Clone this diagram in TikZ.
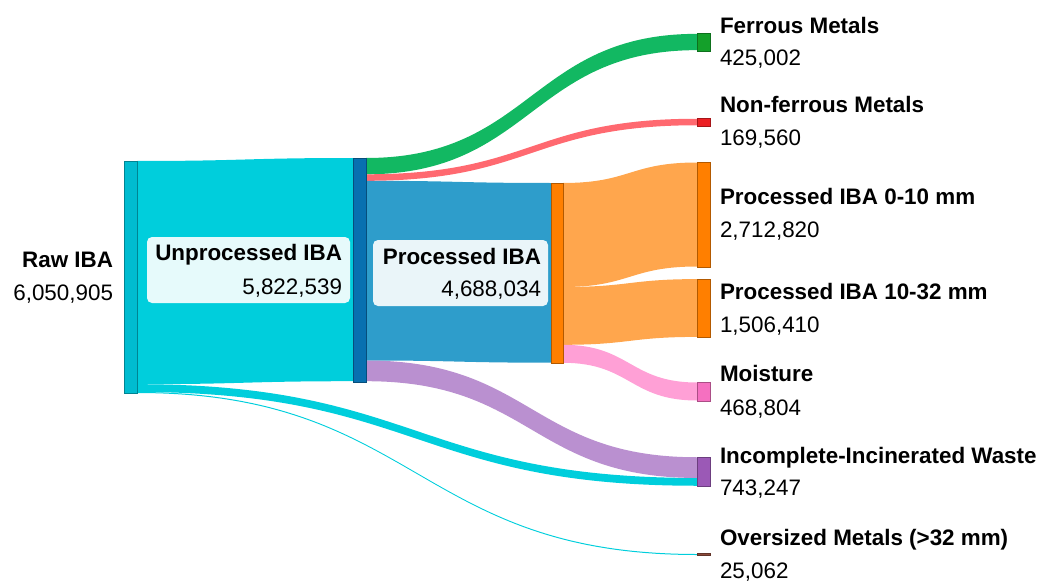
\documentclass[tikz,border=0pt]{standalone}
\usepackage{fontspec}
\setmainfont{Liberation Sans}
\usetikzlibrary{calc}
\pgfdeclarelayer{flows}
\pgfsetlayers{flows,main}
\definecolor{cyanflow}{RGB}{0,206,220}
\definecolor{blueflow}{RGB}{46,157,203}
\definecolor{greenflow}{RGB}{18,184,98}
\definecolor{redflow}{RGB}{255,105,112}
\definecolor{orangeflow}{RGB}{255,166,77}
\definecolor{pinkflow}{RGB}{255,160,214}
\definecolor{purpleflow}{RGB}{186,144,208}
\definecolor{rawnode}{RGB}{0,188,208}
\definecolor{unprocnode}{RGB}{8,112,176}
\definecolor{orangenode}{RGB}{255,127,0}
\definecolor{greennode}{RGB}{20,160,42}
\definecolor{rednode}{RGB}{236,32,36}
\definecolor{pinknode}{RGB}{245,112,192}
\definecolor{purplenode}{RGB}{155,89,182}
\definecolor{brownnode}{RGB}{140,74,58}
\tikzset{
  bar/.style={draw=#1!70!black, fill=#1, line width=0.8pt, inner sep=0pt, outer sep=0pt,
    anchor=north west, minimum width=13pt},
  lblbox/.style={fill=white, fill opacity=0.9, rounded corners=5pt, inner sep=0pt, outer sep=0pt, anchor=north west},
  title/.style={font=\fontsize{22.4}{26}\selectfont\bfseries, inner sep=0pt, outer sep=0pt},
  num/.style={font=\fontsize{22.4}{26}\selectfont, inner sep=0pt, outer sep=0pt},
}
\newcommand\sflow[6]{%
  \fill[#6] let \p1=(#1.north east), \p2=(#3.north west), \p3=($(\p1)!0.5!(\p2)$) in
    (\x1,\y1-#2pt) .. controls (\x3,\y1-#2pt) and (\x3,\y2-#4pt) .. (\x2,\y2-#4pt)
    -- (\x2,\y2-#4pt-#5pt) .. controls (\x3,\y2-#4pt-#5pt) and (\x3,\y1-#2pt-#5pt) .. (\x1,\y1-#2pt-#5pt)
    -- cycle;}
\begin{document}
\begin{tikzpicture}[x=1pt,y=-1pt]
\useasboundingbox (0,0) rectangle (1041,583);
% bars
\node[bar=rawnode, minimum height=232pt] (raw) at (124,161) {};
\node[bar=unprocnode, minimum height=224pt] (unproc) at (353,158) {};
\node[bar=orangenode, minimum height=180pt, minimum width=12pt] (proc) at (551,183) {};
\node[bar=greennode, minimum height=18pt] (ferrous) at (697,33) {};
\node[bar=rednode, minimum height=8pt] (nonfer) at (697,118) {};
\node[bar=orangenode, minimum height=105pt] (p010) at (697,162) {};
\node[bar=orangenode, minimum height=58pt] (p1032) at (697,279) {};
\node[bar=pinknode, minimum height=19pt] (moist) at (697,382) {};
\node[bar=purplenode, minimum height=29pt] (incomp) at (697,457) {};
\node[bar=brownnode, minimum height=2pt, line width=0.3pt] (oversz) at (697,553.5) {};
% flows
\begin{pgfonlayer}{flows}
\sflow{raw}{0}{unproc}{0}{223.2}{cyanflow}
\sflow{raw}{223.2}{incomp}{20.95}{7.8}{cyanflow}
\sflow{raw}{231.0}{oversz}{0.5}{1.0}{cyanflow}
\sflow{unproc}{0}{ferrous}{0.85}{16.3}{greenflow}
\sflow{unproc}{16.3}{nonfer}{0.75}{6.5}{redflow}
\sflow{unproc}{22.8}{proc}{0}{179.7}{blueflow}
\sflow{unproc}{202.5}{incomp}{0.25}{20.7}{purpleflow}
\sflow{proc}{0}{p010}{0.5}{104}{orangeflow}
\sflow{proc}{104}{p1032}{0.1}{57.8}{orangeflow}
\sflow{proc}{161.8}{moist}{0.5}{18}{pinkflow}
\end{pgfonlayer}
% label boxes
\node[lblbox, minimum width=203pt, minimum height=66pt] (unprocbox) at (147,237) {};
\node[lblbox, minimum width=175pt, minimum height=66pt] (procbox) at (373,240) {};
\node[title, anchor=base east] (unprocT) at (342,260.7) {Unprocessed IBA};
\node[num, anchor=base east] (unprocN) at (342,294) {5,822,539};
\node[title, anchor=base east] (procT) at (541,264.3) {Processed IBA};
\node[num, anchor=base east] (procN) at (541,296.7) {4,688,034};
% left label
\node[title, anchor=base east] (rawT) at (113,267.3) {Raw IBA};
\node[num, anchor=base east] (rawN) at (113,300.7) {6,050,905};
% right labels
\node[title, anchor=base west] (ferrousT) at (720,33.5) {Ferrous Metals};
\node[num, anchor=base west] (ferrousN) at (720,65.7) {425,002};
\node[title, anchor=base west] (nonferT) at (720,112.7) {Non-ferrous Metals};
\node[num, anchor=base west] (nonferN) at (720,145.7) {169,560};
\node[title, anchor=base west] (p010T) at (720,204) {Processed IBA 0-10 mm};
\node[num, anchor=base west] (p010N) at (720,237.5) {2,712,820};
\node[title, anchor=base west] (p1032T) at (720,299) {Processed IBA 10-32 mm};
\node[num, anchor=base west] (p1032N) at (720,332.5) {1,506,410};
\node[title, anchor=base west] (moistT) at (720,381.7) {Moisture};
\node[num, anchor=base west] (moistN) at (720,415) {468,804};
\node[title, anchor=base west] (incompT) at (720,463) {Incomplete-Incinerated Waste};
\node[num, anchor=base west] (incompN) at (720,495) {743,247};
\node[title, anchor=base west] (overszT) at (720,545.5) {Oversized Metals (>32 mm)};
\node[num, anchor=base west] (overszN) at (720,578.3) {25,062};
\end{tikzpicture}
\end{document}
